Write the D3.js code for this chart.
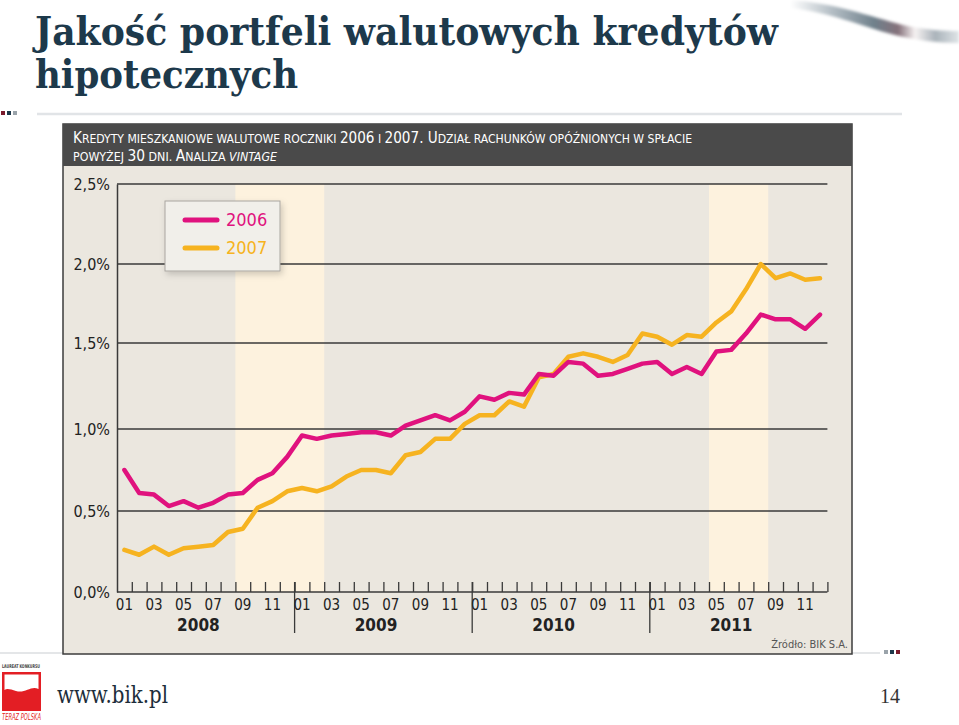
<!DOCTYPE html>
<html><head><meta charset="utf-8">
<script src="https://cdn.jsdelivr.net/npm/d3@7/dist/d3.min.js"></script>
<style>
html,body{margin:0;padding:0;background:#fff;}
svg{display:block;}
</style></head>
<body>
<script>
// ---- data ----
const years = ["2008","2009","2010","2011"];
const monthLabels = ["01","03","05","07","09","11"];
const yTicks = [0, 0.5, 1.0, 1.5, 2.0, 2.5];
const yTickLabels = ["0,0%","0,5%","1,0%","1,5%","2,0%","2,5%"];
const seriesNames = ["2006","2007"];
// monthly values Jan 2008 – Dec 2011 (% share of accounts > 30 days past due)
const vals2006 = [0.75,0.61,0.60,0.53,0.56,0.52,0.55,0.60,0.61,0.69,0.73,0.83,
                  0.96,0.94,0.96,0.97,0.98,0.98,0.96,1.02,1.05,1.08,1.05,1.10,
                  1.19,1.17,1.21,1.20,1.32,1.31,1.39,1.38,1.31,1.32,1.35,1.38,
                  1.39,1.32,1.36,1.32,1.45,1.46,1.56,1.68,1.65,1.65,1.59,1.68];
const vals2007 = [0.26,0.23,0.28,0.23,0.27,0.28,0.29,0.37,0.39,0.52,0.56,0.62,
                  0.64,0.62,0.65,0.71,0.75,0.75,0.73,0.84,0.86,0.94,0.94,1.03,
                  1.08,1.08,1.16,1.13,1.30,1.32,1.42,1.44,1.42,1.39,1.43,1.56,
                  1.54,1.49,1.55,1.54,1.63,1.70,1.84,2.00,1.91,1.94,1.90,1.91];
// highlighted periods: [start month index, end month index) from Jan 2008
const bands = [[8,14],[40,44]];
// header text pieces (small-caps style): [text, capital size?, italic?]
const header1 = [["K",1],["REDYTY MIESZKANIOWE WALUTOWE ROCZNIKI ",0],["2006",1],[" I ",0],["2007. U",1],["DZIAŁ RACHUNKÓW OPÓŹNIONYCH W SPŁACIE",0]];
const header2 = [["POWYŻEJ ",0],["30",1],[" DNI. ",0],["A",1],["NALIZA ",0],["VINTAGE",0,1]];

const W = 959, H = 725;
const colors = {"2006":"#e0127e","2007":"#f6b320"};
const cond = "'Liberation Sans Narrow','DejaVu Sans Condensed','Open Sans',sans-serif";

const svg = d3.select("body").append("svg").attr("width",W).attr("height",H);
const defs = svg.append("defs");

// swoosh gradient
const g1 = defs.append("linearGradient").attr("id","sw").attr("x1","0").attr("x2","1");
g1.append("stop").attr("offset","0").attr("stop-color","#ffffff");
g1.append("stop").attr("offset","0.25").attr("stop-color","#b3bdc4");
g1.append("stop").attr("offset","0.5").attr("stop-color","#6f808b");
g1.append("stop").attr("offset","0.64").attr("stop-color","#85717b");
g1.append("stop").attr("offset","0.74").attr("stop-color","#f6f2f2");
g1.append("stop").attr("offset","0.86").attr("stop-color","#aab3ba");
g1.append("stop").attr("offset","1").attr("stop-color","#dfe4e7");
const bl = defs.append("filter").attr("id","blur").attr("x","-10%").attr("y","-50%").attr("width","120%").attr("height","200%");
bl.append("feGaussianBlur").attr("stdDeviation","1.8");
const sh = defs.append("filter").attr("id","shadow").attr("x","-20%").attr("y","-20%").attr("width","140%").attr("height","150%");
sh.append("feDropShadow").attr("dx","2").attr("dy","3").attr("stdDeviation","3").attr("flood-color","#000").attr("flood-opacity","0.18");

svg.append("path").attr("d","M790,0 C835,3 868,16 903,25 C925,30 945,31 959,31 L959,43 C938,43 915,40 895,35 C860,26 830,12 790,8 Z")
  .attr("fill","url(#sw)").attr("filter","url(#blur)");
svg.append("path").attr("d","M812,51 L955,51").attr("stroke","#e0e5e8").attr("stroke-width",6).attr("filter","url(#blur)");

// title
const titleColor = "#1d394b";
svg.append("text").attr("x",35).attr("y",45).attr("font-family","'DejaVu Serif',serif").attr("font-weight","bold")
  .attr("font-size",40).attr("fill",titleColor).attr("textLength",743).attr("lengthAdjust","spacingAndGlyphs")
  .text("Jakość portfeli walutowych kredytów");
svg.append("text").attr("x",35).attr("y",88).attr("font-family","'DejaVu Serif',serif").attr("font-weight","bold")
  .attr("font-size",40).attr("fill",titleColor).attr("textLength",263).attr("lengthAdjust","spacingAndGlyphs")
  .text("hipotecznych");

// decorative squares and rules
[["#7a1b2c",1],["#1d394b",7],["#9aa3aa",13]].forEach(([c,x])=>svg.append("rect").attr("x",x).attr("y",111).attr("width",4).attr("height",4).attr("fill",c));
svg.append("line").attr("x1",37).attr("x2",902).attr("y1",114).attr("y2",114).attr("stroke","#e1e4e7").attr("stroke-width",2.5);
svg.append("line").attr("x1",0).attr("x2",880).attr("y1",653).attr("y2",653).attr("stroke","#e4e6e8").attr("stroke-width",2);
[["#9aa3aa",884],["#1d394b",890],["#7a1b2c",896]].forEach(([c,x])=>svg.append("rect").attr("x",x).attr("y",650).attr("width",4).attr("height",4).attr("fill",c));

// panel
svg.append("rect").attr("x",63).attr("y",124).attr("width",789).attr("height",530).attr("fill","#ebe7df").attr("stroke","#3c3c3c").attr("stroke-width",1.5);
svg.append("rect").attr("x",63).attr("y",124).attr("width",789).attr("height",42).attr("fill","#4a4a4a");

const hdr = svg.append("g").attr("font-family",cond).attr("fill","#fff");
function headerLine(pieces, yy, len){
  const t = hdr.append("text").attr("x",73).attr("y",yy).attr("textLength",len).attr("lengthAdjust","spacingAndGlyphs");
  pieces.forEach(p=>{
    t.append("tspan").attr("font-size",p[1]?15:12).attr("font-style",p[2]?"italic":null).text(p[0]);
  });
}
headerLine(header1,143,619);
headerLine(header2,161,204);

// scales
const x = d3.scaleLinear().domain([0,48]).range([117,827.4]);
const y = d3.scaleLinear().domain(yTicks).range([592,511,429,343,264,184]);

// bands
svg.append("g").selectAll("rect").data(bands).join("rect")
  .attr("x",d=>x(d[0])).attr("width",d=>x(d[1])-x(d[0]))
  .attr("y",y(2.5)).attr("height",y(0)-y(2.5)).attr("fill","#fdf2de");

// gridlines
svg.append("g").selectAll("line").data(yTicks.slice(1)).join("line")
  .attr("x1",x(0)).attr("x2",x(48)).attr("y1",d=>y(d)).attr("y2",d=>y(d))
  .attr("stroke","#3a3a3a").attr("stroke-width",1.3);

// y axis
const yAxis = d3.axisLeft(y).tickValues(yTicks).tickSize(0).tickPadding(7).tickFormat((d,i)=>yTickLabels[i]);
const ya = svg.append("g").attr("transform",`translate(${x(0)},0)`).call(yAxis);
ya.select(".domain").attr("stroke","#3a3a3a").attr("stroke-width",1.5);
ya.selectAll("text").attr("font-family",cond).attr("font-size",16).attr("fill","#222");

// x axis (month boundaries)
const xAxis = d3.axisBottom(x).tickValues(d3.range(1,49)).tickSize(-10).tickFormat("");
const xa = svg.append("g").attr("transform",`translate(0,${y(0)})`).call(xAxis);
xa.select(".domain").attr("d",`M${x(0)},0H${x(48)}`).attr("stroke","#3a3a3a").attr("stroke-width",1.5);
xa.selectAll(".tick line").attr("stroke","#3a3a3a").attr("stroke-width",1.3);
// year dividers
svg.append("g").selectAll("line").data([12,24,36]).join("line")
  .attr("x1",d=>x(d)).attr("x2",d=>x(d)).attr("y1",y(0)-10).attr("y2",633)
  .attr("stroke","#3a3a3a").attr("stroke-width",1.3);
// month labels
const mlab = [];
years.forEach((yr,k)=>monthLabels.forEach((m,j)=>mlab.push({m,idx:k*12+j*2})));
svg.append("g").selectAll("text").data(mlab).join("text")
  .attr("x",d=>x(d.idx+0.5)).attr("y",610).attr("text-anchor","middle")
  .attr("font-family",cond).attr("font-size",15).attr("fill","#222").text(d=>d.m);
svg.append("g").selectAll("text").data(years).join("text")
  .attr("x",(d,k)=>x(k*12+5.5)).attr("y",631).attr("text-anchor","middle")
  .attr("font-family",cond).attr("font-weight","bold").attr("font-size",17).attr("fill","#222").text(d=>d);

// lines
const line = d3.line().x((d,i)=>x(i+0.5)).y(d=>y(d));
[["2007",vals2007],["2006",vals2006]].forEach(([n,v])=>{
  svg.append("path").datum(v).attr("d",line).attr("fill","none")
    .attr("stroke",colors[n]).attr("stroke-width",4.5).attr("stroke-linejoin","round").attr("stroke-linecap","round");
});

// legend
const lg = svg.append("g");
lg.append("rect").attr("x",165).attr("y",201).attr("width",115).attr("height",70)
  .attr("fill","#f1efea").attr("stroke","#a9a6a0").attr("stroke-width",1).attr("filter","url(#shadow)");
seriesNames.forEach((n,i)=>{
  const yy = 220 + i*28;
  lg.append("line").attr("x1",185).attr("x2",217).attr("y1",yy).attr("y2",yy)
    .attr("stroke",colors[n]).attr("stroke-width",5).attr("stroke-linecap","round");
  lg.append("text").attr("x",226).attr("y",yy+6).attr("font-family",cond).attr("font-size",18)
    .attr("fill",colors[n]).text(n);
});

// source
svg.append("text").attr("x",848).attr("y",648).attr("text-anchor","end").attr("font-family",cond)
  .attr("font-size",11).attr("fill","#555").text("Źródło: BIK S.A.");

// footer logo
const lo = svg.append("g");
lo.append("text").attr("x",2).attr("y",668).attr("font-family",cond).attr("font-size",5).attr("font-weight","bold")
  .attr("fill","#444").attr("textLength",38).attr("lengthAdjust","spacingAndGlyphs").text("LAUREAT KONKURSU");
lo.append("rect").attr("x",2).attr("y",672).attr("width",39).attr("height",39).attr("fill","#e31e24");
lo.append("path").attr("d","M4.5,674.5 H38.5 V689 C31,685 25,694 16,691 C11,689.5 7,688 4.5,690 Z").attr("fill","#fff");
lo.append("text").attr("x",2).attr("y",720).attr("font-family",cond).attr("font-size",8).attr("font-style","italic")
  .attr("fill","#e31e24").attr("textLength",39).attr("lengthAdjust","spacingAndGlyphs").text("TERAZ POLSKA");

svg.append("text").attr("x",57).attr("y",703).attr("font-family","'DejaVu Serif',serif").attr("font-size",25)
  .attr("fill","#1d2d3a").attr("textLength",111).attr("lengthAdjust","spacingAndGlyphs").text("www.bik.pl");
svg.append("text").attr("x",880).attr("y",703).attr("font-family","'Liberation Serif',serif").attr("font-size",20)
  .attr("fill","#333").text("14");
</script>
</body></html>
